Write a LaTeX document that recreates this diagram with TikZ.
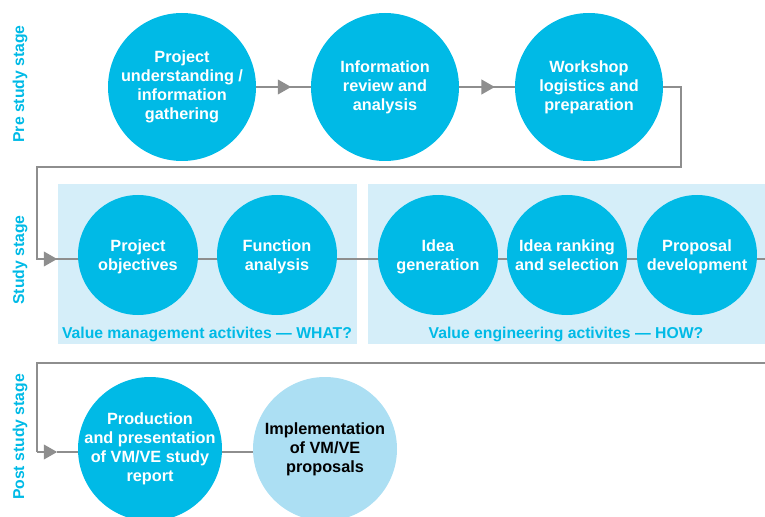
\documentclass[tikz,border=0pt]{standalone}
\usepackage{fontspec}
\setmainfont{Liberation Sans}
\usetikzlibrary{arrows.meta,decorations.markings}
\definecolor{cblue}{HTML}{00BAE6}
\definecolor{boxblue}{HTML}{D5EEF9}
\definecolor{impblue}{HTML}{ACDFF3}
\definecolor{lgray}{HTML}{8E8E8E}
\tikzset{
  circ/.style={circle,fill=cblue,text=white,inner sep=-25pt,align=center,
    font=\fontsize{12.2}{14.3}\selectfont\bfseries},
  bigc/.style={circ,minimum size=111pt},
  midc/.style={circ,minimum size=90pt,text depth=0pt},
  postc/.style={circ,minimum size=108pt},
  conn/.style={draw=lgray,line width=1.4pt},
  midarrow/.style={conn,postaction={decorate},decoration={markings,
    mark=at position 0.64 with {\arrow{Triangle[length=10pt,width=11pt]}}}},
  endarrow/.style={conn,-{Triangle[length=10pt,width=11pt]},shorten >=-0.1pt},
  stagelbl/.style={rotate=90,text=cblue,font=\fontsize{11.8}{14}\selectfont\bfseries},
  grplbl/.style={text=cblue,font=\fontsize{11.8}{14}\selectfont\bfseries},
  grpbox/.style={fill=boxblue,draw=none}
}
\begin{document}
\begin{tikzpicture}[x=0.75pt,y=-0.75pt]
\useasboundingbox (0,0) rectangle (765,517);
\clip (0,0) rectangle (765,517);
% group boxes
\fill[grpbox] (58,184) rectangle (357,344);
\fill[grpbox] (368,184) rectangle (765,344);
% stage labels
\node[stagelbl] (s1) at (20,84) {Pre study stage};
\node[stagelbl] (s2) at (20,260) {Study stage};
\node[stagelbl] (s3) at (20,437) {Post study stage};
% coordinates for connector corners
\coordinate (k1) at (681,87);
\coordinate (k2) at (681,167);
\coordinate (k3) at (37,167);
\coordinate (k4) at (37,259);
\coordinate (a1) at (57,259);
\coordinate (r1) at (765,259);
\coordinate (r2) at (765,363);
\coordinate (k5) at (37,363);
\coordinate (k6) at (37,452);
\coordinate (a2) at (57,452);
% top row
\node[bigc] (c1) at (182,87) {Project\\understanding /\\information\\gathering};
\node[bigc] (c2) at (385,87) {Information\\review and\\analysis};
\node[bigc] (c3) at (589,87) {Workshop\\logistics and\\preparation};
% study row
\node[midc] (po) at (138,255) {Project\\objectives};
\node[midc] (fa) at (277,255) {Function\\analysis};
\node[midc] (ig) at (438,255) {Idea\\generation};
\node[midc] (ir) at (567,255) {Idea ranking\\and selection};
\node[midc] (pd) at (697,255) {Proposal\\development};
% post row
\node[postc] (pr) at (150,449) {Production\\and presentation\\of VM/VE study\\report};
\node[postc,fill=impblue,text=black] (im) at (325,449) {Implementation\\of VM/VE\\proposals};
% group labels
\node[grplbl] (g1) at (207,334) {Value management activites — WHAT?};
\node[grplbl] (g2) at (566,334) {Value engineering activites — HOW?};
% connectors
\draw[midarrow] (c1) -- (c2);
\draw[midarrow] (c2) -- (c3);
\draw[conn] (c3.east) -- (k1) -- (k2) -- (k3) -- (k4) -- (a1);
\draw[endarrow] (k4) -- (a1);
\draw[conn] (a1) -- (po.west |- a1);
\draw[conn] (po.east |- a1) -- (fa.west |- a1);
\draw[conn] (fa.east |- a1) -- (ig.west |- a1);
\draw[conn] (ig.east |- a1) -- (ir.west |- a1);
\draw[conn] (ir.east |- a1) -- (pd.west |- a1);
\draw[conn] (pd.east |- a1) -- (r1);
\draw[conn] (r2) -- (k5) -- (k6);
\draw[endarrow] (k6) -- (a2);
\draw[conn] (a2) -- (pr.west |- a2);
\draw[conn] (pr.east |- a2) -- (im.west |- a2);
\end{tikzpicture}
\end{document}
